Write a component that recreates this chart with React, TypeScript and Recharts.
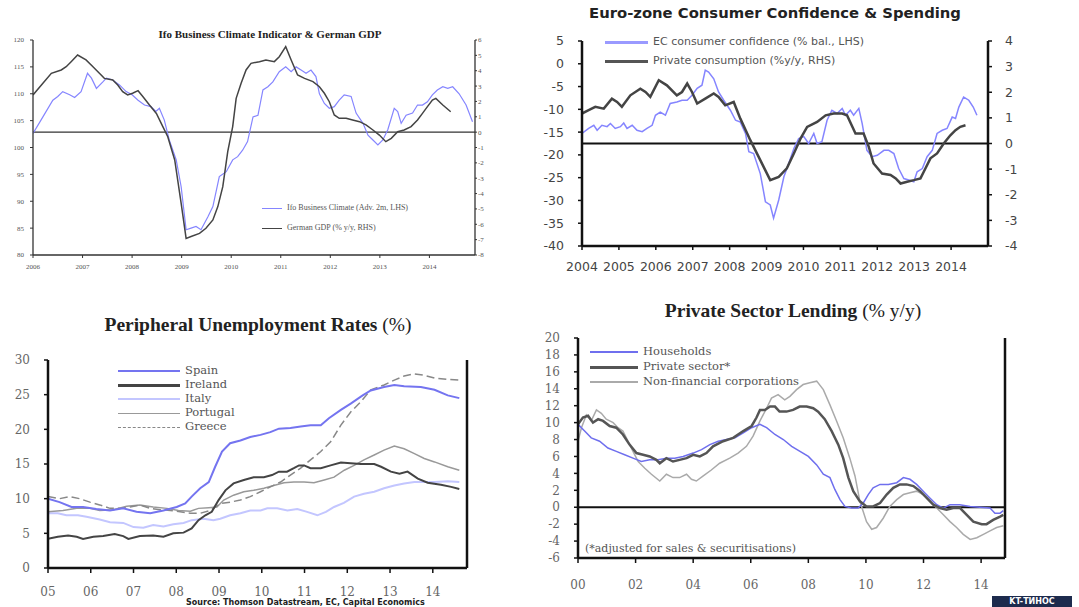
import { LineChart, Line, XAxis, YAxis, ReferenceLine } from 'recharts';

type Pt = [number, number];

// Ifo Business Climate (adv. 2m, LHS) and German GDP (% y/y, RHS)
const IFO: Pt[] = [
  [2006.0, 102.6], [2006.2, 105.7], [2006.4, 108.8], [2006.5, 109.5], [2006.6, 110.4], [2006.74, 109.8],
  [2006.84, 109.3], [2006.97, 110.4], [2007.1, 113.8], [2007.18, 112.9], [2007.28, 111.0], [2007.41, 112.2],
  [2007.48, 112.9], [2007.6, 112.6], [2007.75, 111.6], [2007.88, 110.4], [2008.0, 109.8], [2008.12, 108.8],
  [2008.25, 107.9], [2008.38, 107.6], [2008.48, 106.7], [2008.55, 107.3], [2008.65, 105.1], [2008.75, 101.4],
  [2008.89, 97.7], [2008.99, 92.7], [2009.09, 84.7], [2009.19, 85.0], [2009.29, 85.3], [2009.39, 84.7],
  [2009.53, 87.1], [2009.63, 89.0], [2009.76, 94.6], [2009.9, 95.5], [2010.03, 97.7], [2010.13, 98.3],
  [2010.23, 99.5], [2010.33, 101.1], [2010.44, 105.7], [2010.54, 106.0], [2010.64, 110.7], [2010.74, 111.3],
  [2010.84, 112.2], [2010.97, 114.1], [2011.1, 115.0], [2011.21, 114.1], [2011.31, 115.0], [2011.41, 114.4],
  [2011.51, 113.8], [2011.61, 114.4], [2011.71, 113.2], [2011.78, 110.0], [2011.88, 108.2], [2011.98, 107.3],
  [2012.08, 107.6], [2012.18, 108.8], [2012.28, 109.8], [2012.42, 109.5], [2012.52, 106.4], [2012.66, 104.5],
  [2012.76, 102.3], [2012.86, 101.4], [2012.96, 100.5], [2013.06, 101.4], [2013.16, 103.3], [2013.29, 107.3],
  [2013.36, 106.7], [2013.43, 104.5], [2013.53, 106.0], [2013.66, 106.4], [2013.76, 107.9], [2013.86, 107.9],
  [2013.96, 108.5], [2014.06, 109.8], [2014.16, 110.7], [2014.27, 111.3], [2014.37, 111.0], [2014.47, 111.3],
  [2014.6, 110.0], [2014.74, 107.9], [2014.87, 104.8],
];

const GERMAN_GDP: Pt[] = [
  [2006.0, 2.42], [2006.2, 3.18], [2006.37, 3.83], [2006.57, 4.05], [2006.67, 4.26], [2006.77, 4.59],
  [2006.9, 5.02], [2007.07, 4.7], [2007.21, 4.26], [2007.34, 3.83], [2007.44, 3.5], [2007.61, 3.4],
  [2007.71, 3.07], [2007.81, 2.64], [2007.91, 2.42], [2008.01, 2.53], [2008.12, 2.7], [2008.22, 2.31],
  [2008.35, 1.77], [2008.49, 1.22], [2008.62, 0.36], [2008.72, -0.3], [2008.86, -1.81], [2008.99, -4.64],
  [2009.09, -6.92], [2009.19, -6.8], [2009.36, -6.59], [2009.49, -6.26], [2009.63, -5.72], [2009.73, -4.85],
  [2009.83, -3.55], [2009.93, -1.27], [2010.03, 0.36], [2010.1, 2.2], [2010.2, 3.18], [2010.3, 4.05],
  [2010.4, 4.48], [2010.57, 4.59], [2010.7, 4.7], [2010.87, 4.59], [2010.97, 4.91], [2011.1, 5.57],
  [2011.21, 4.7], [2011.34, 3.72], [2011.48, 3.5], [2011.65, 3.29], [2011.78, 2.96], [2011.88, 2.53],
  [2011.98, 1.98], [2012.08, 1.12], [2012.18, 0.9], [2012.32, 0.9], [2012.45, 0.79], [2012.59, 0.68],
  [2012.72, 0.47], [2012.86, 0.14], [2012.99, -0.19], [2013.12, -0.62], [2013.23, -0.4], [2013.36, 0.03],
  [2013.49, 0.14], [2013.63, 0.36], [2013.76, 0.79], [2013.86, 1.22], [2013.96, 1.66], [2014.06, 2.09],
  [2014.13, 2.2], [2014.27, 1.77], [2014.43, 1.33],
];

// Euro-zone: EC consumer confidence (LHS) and private consumption % y/y (RHS)
const EC_CONFIDENCE: Pt[] = [
  [2004.0, -15.3], [2004.18, -14.2], [2004.32, -13.5], [2004.41, -14.6], [2004.54, -13.5], [2004.68, -13.8],
  [2004.77, -13.1], [2004.9, -14.2], [2005.04, -13.8], [2005.13, -13.0], [2005.22, -14.2], [2005.36, -13.5],
  [2005.49, -14.6], [2005.63, -14.9], [2005.76, -14.2], [2005.9, -13.5], [2005.99, -11.3], [2006.12, -10.6],
  [2006.26, -11.3], [2006.39, -8.7], [2006.57, -8.4], [2006.71, -8.0], [2006.85, -8.0], [2006.98, -6.9],
  [2007.12, -5.4], [2007.25, -4.7], [2007.34, -1.4], [2007.43, -1.8], [2007.57, -3.3], [2007.7, -6.2],
  [2007.84, -8.0], [2008.02, -10.2], [2008.16, -12.4], [2008.29, -12.8], [2008.43, -15.3], [2008.52, -19.3],
  [2008.65, -19.7], [2008.83, -24.1], [2008.97, -30.3], [2009.1, -31.0], [2009.19, -33.9], [2009.33, -29.9],
  [2009.47, -24.8], [2009.6, -21.9], [2009.74, -18.6], [2009.87, -16.4], [2010.01, -16.0], [2010.14, -17.5],
  [2010.28, -15.3], [2010.37, -17.5], [2010.5, -17.1], [2010.64, -12.4], [2010.77, -10.2], [2010.91, -10.9],
  [2011.05, -9.8], [2011.14, -11.3], [2011.27, -10.2], [2011.36, -11.3], [2011.5, -9.8], [2011.59, -13.1],
  [2011.72, -19.0], [2011.86, -20.4], [2012.0, -20.1], [2012.18, -19.0], [2012.31, -19.0], [2012.45, -19.7],
  [2012.58, -23.0], [2012.72, -25.2], [2012.85, -25.5], [2012.99, -25.9], [2013.08, -23.7], [2013.22, -23.0],
  [2013.35, -20.4], [2013.49, -19.0], [2013.62, -15.3], [2013.76, -14.6], [2013.89, -14.2], [2014.03, -11.7],
  [2014.12, -12.0], [2014.21, -9.5], [2014.34, -7.3], [2014.48, -8.0], [2014.6, -9.5], [2014.7, -11.3],
];

const PRIVATE_CONSUMPTION: Pt[] = [
  [2004.0, 1.17], [2004.18, 1.3], [2004.36, 1.43], [2004.59, 1.36], [2004.81, 1.75], [2004.95, 1.62],
  [2005.08, 1.43], [2005.31, 1.88], [2005.58, 2.14], [2005.72, 2.01], [2005.85, 1.82], [2006.08, 2.47],
  [2006.3, 2.27], [2006.57, 1.88], [2006.71, 2.01], [2006.85, 2.34], [2006.98, 2.01], [2007.12, 1.56],
  [2007.34, 1.75], [2007.57, 1.95], [2007.7, 1.82], [2007.88, 1.49], [2008.11, 1.62], [2008.29, 0.97],
  [2008.56, 0.13], [2008.83, -0.65], [2009.1, -1.43], [2009.33, -1.3], [2009.55, -0.97], [2009.74, -0.39],
  [2009.92, 0.19], [2010.1, 0.65], [2010.37, 0.84], [2010.6, 1.1], [2010.82, 1.17], [2011.05, 1.17],
  [2011.18, 1.1], [2011.41, 0.39], [2011.63, 0.39], [2011.77, -0.13], [2011.9, -0.78], [2012.13, -1.17],
  [2012.36, -1.23], [2012.5, -1.36], [2012.63, -1.56], [2012.81, -1.49], [2012.99, -1.43], [2013.17, -1.36],
  [2013.26, -1.1], [2013.44, -0.58], [2013.62, -0.39], [2013.8, 0.0], [2013.98, 0.32], [2014.12, 0.52],
  [2014.25, 0.65], [2014.39, 0.71],
];

// Peripheral unemployment rates (%)
const SPAIN: Pt[] = [
  [2005.0, 10.0], [2005.27, 9.5], [2005.55, 8.8], [2005.82, 8.8], [2006.13, 8.5], [2006.45, 8.3],
  [2006.76, 8.6], [2007.07, 8.1], [2007.39, 7.9], [2007.7, 8.3], [2008.01, 8.8], [2008.21, 9.3],
  [2008.36, 10.3], [2008.56, 11.5], [2008.76, 12.4], [2008.91, 14.6], [2009.07, 16.8], [2009.26, 18.0],
  [2009.5, 18.4], [2009.73, 18.9], [2009.97, 19.2], [2010.2, 19.6], [2010.4, 20.1], [2010.67, 20.2],
  [2010.91, 20.4], [2011.14, 20.6], [2011.38, 20.6], [2011.57, 21.6], [2011.85, 22.8], [2012.08, 23.7],
  [2012.36, 24.9], [2012.55, 25.6], [2012.86, 26.1], [2013.1, 26.4], [2013.33, 26.2], [2013.72, 26.1],
  [2014.04, 25.7], [2014.35, 24.9], [2014.62, 24.5],
];

const IRELAND: Pt[] = [
  [2005.0, 4.2], [2005.23, 4.5], [2005.47, 4.7], [2005.67, 4.5], [2005.82, 4.2], [2006.06, 4.5],
  [2006.29, 4.6], [2006.56, 4.9], [2006.76, 4.6], [2006.88, 4.2], [2007.15, 4.6], [2007.46, 4.7],
  [2007.7, 4.5], [2007.93, 5.0], [2008.17, 5.1], [2008.36, 5.7], [2008.52, 6.9], [2008.68, 7.6],
  [2008.83, 8.1], [2008.99, 9.8], [2009.15, 11.2], [2009.34, 12.2], [2009.58, 12.7], [2009.81, 13.1],
  [2010.05, 13.1], [2010.24, 13.4], [2010.4, 13.9], [2010.59, 13.9], [2010.75, 14.4], [2010.87, 14.8],
  [2010.99, 14.8], [2011.14, 14.4], [2011.38, 14.4], [2011.61, 14.8], [2011.85, 15.2], [2012.08, 15.1],
  [2012.32, 15.0], [2012.63, 15.0], [2012.79, 14.6], [2013.02, 13.9], [2013.22, 13.6], [2013.41, 13.9],
  [2013.65, 12.9], [2013.88, 12.3], [2014.19, 12.0], [2014.43, 11.7], [2014.62, 11.4],
];

const ITALY: Pt[] = [
  [2005.0, 7.9], [2005.23, 7.9], [2005.43, 7.6], [2005.7, 7.6], [2005.9, 7.4], [2006.21, 7.0],
  [2006.45, 6.6], [2006.76, 6.5], [2007.0, 5.9], [2007.23, 5.8], [2007.46, 6.2], [2007.7, 6.0],
  [2007.93, 6.3], [2008.17, 6.5], [2008.36, 6.9], [2008.64, 7.1], [2008.87, 6.9], [2009.03, 7.1],
  [2009.26, 7.6], [2009.5, 7.9], [2009.73, 8.3], [2009.97, 8.3], [2010.13, 8.6], [2010.36, 8.6],
  [2010.6, 8.3], [2010.83, 8.5], [2011.06, 8.1], [2011.3, 7.6], [2011.5, 8.1], [2011.69, 8.8],
  [2011.92, 9.4], [2012.16, 10.3], [2012.39, 10.7], [2012.63, 11.0], [2012.86, 11.5], [2013.1, 11.9],
  [2013.33, 12.2], [2013.57, 12.4], [2013.8, 12.4], [2014.04, 12.4], [2014.35, 12.5], [2014.62, 12.4],
];

const PORTUGAL: Pt[] = [
  [2005.0, 8.1], [2005.35, 8.3], [2005.67, 8.6], [2005.98, 8.6], [2006.21, 8.3], [2006.53, 8.4],
  [2006.84, 8.9], [2007.15, 9.1], [2007.46, 8.8], [2007.78, 8.6], [2008.05, 8.3], [2008.33, 8.2],
  [2008.52, 8.6], [2008.76, 8.7], [2008.95, 8.8], [2009.11, 9.8], [2009.34, 10.5], [2009.58, 11.0],
  [2009.81, 11.2], [2010.05, 11.5], [2010.28, 11.9], [2010.52, 12.3], [2010.75, 12.4], [2010.99, 12.4],
  [2011.22, 12.3], [2011.46, 12.7], [2011.69, 13.1], [2011.93, 14.1], [2012.16, 14.8], [2012.39, 15.6],
  [2012.63, 16.3], [2012.86, 17.0], [2013.1, 17.6], [2013.33, 17.2], [2013.57, 16.5], [2013.8, 15.8],
  [2014.04, 15.3], [2014.35, 14.6], [2014.62, 14.1],
];

const GREECE: Pt[] = [
  [2005.0, 10.3], [2005.27, 10.0], [2005.51, 10.3], [2005.74, 10.0], [2005.98, 9.5], [2006.21, 9.1],
  [2006.45, 8.6], [2006.68, 8.6], [2006.92, 8.8], [2007.15, 9.1], [2007.39, 8.6], [2007.62, 8.4],
  [2007.86, 8.3], [2008.09, 8.1], [2008.33, 7.9], [2008.56, 7.9], [2008.8, 8.3], [2009.03, 9.3],
  [2009.26, 9.5], [2009.5, 9.8], [2009.73, 10.3], [2009.97, 11.0], [2010.2, 11.7], [2010.44, 12.4],
  [2010.67, 13.4], [2010.91, 14.4], [2011.14, 15.6], [2011.38, 16.8], [2011.61, 18.2], [2011.85, 20.6],
  [2012.08, 22.5], [2012.32, 24.0], [2012.55, 25.7], [2012.86, 26.4], [2013.1, 27.1], [2013.33, 27.7],
  [2013.57, 28.0], [2013.8, 27.8], [2014.04, 27.4], [2014.35, 27.2], [2014.62, 27.1],
];

// Private sector lending (% y/y)
const HOUSEHOLDS: Pt[] = [
  [2000.0, 9.8], [2000.23, 9.0], [2000.46, 8.2], [2000.75, 7.8], [2001.04, 7.0], [2001.33, 6.6],
  [2001.62, 6.2], [2001.91, 5.8], [2002.2, 5.4], [2002.49, 5.6], [2002.78, 5.6], [2003.07, 5.8],
  [2003.36, 5.8], [2003.65, 6.0], [2004.0, 6.4], [2004.29, 6.8], [2004.58, 7.4], [2004.87, 7.8],
  [2005.16, 8.0], [2005.45, 8.2], [2005.74, 8.8], [2006.03, 9.4], [2006.32, 9.8], [2006.55, 9.4],
  [2006.84, 8.6], [2007.13, 8.0], [2007.42, 7.2], [2007.71, 6.6], [2008.0, 6.0], [2008.29, 5.0],
  [2008.52, 3.9], [2008.75, 3.5], [2008.92, 2.1], [2009.1, 0.9], [2009.27, 0.1], [2009.5, -0.1],
  [2009.73, -0.1], [2009.91, 0.5], [2010.08, 1.5], [2010.25, 2.3], [2010.49, 2.7], [2010.78, 2.7],
  [2011.07, 2.9], [2011.3, 3.5], [2011.53, 3.3], [2011.76, 2.7], [2011.99, 1.9], [2012.22, 1.1],
  [2012.46, 0.3], [2012.69, -0.1], [2012.92, 0.3], [2013.26, 0.3], [2013.62, 0.1], [2013.96, 0.0],
  [2014.31, -0.1], [2014.48, -0.7], [2014.66, -0.7], [2014.77, -0.4],
];

const PRIVATE_SECTOR: Pt[] = [
  [2000.0, 9.8], [2000.17, 10.6], [2000.35, 10.8], [2000.52, 10.0], [2000.7, 10.4], [2000.87, 10.2],
  [2001.1, 9.6], [2001.33, 9.4], [2001.56, 8.6], [2001.79, 7.4], [2002.03, 6.4], [2002.26, 6.2],
  [2002.49, 6.0], [2002.72, 5.6], [2002.84, 5.2], [2003.07, 5.8], [2003.3, 5.4], [2003.53, 5.6],
  [2003.77, 5.8], [2004.0, 6.2], [2004.23, 6.0], [2004.46, 6.4], [2004.69, 7.2], [2005.04, 7.8],
  [2005.39, 8.2], [2005.74, 9.0], [2006.03, 9.6], [2006.2, 10.6], [2006.32, 11.5], [2006.49, 11.5],
  [2006.67, 11.9], [2006.84, 11.9], [2007.0, 11.3], [2007.24, 11.3], [2007.47, 11.5], [2007.7, 11.9],
  [2007.94, 11.9], [2008.17, 11.7], [2008.34, 11.3], [2008.57, 10.4], [2008.81, 9.0], [2009.04, 7.4],
  [2009.21, 5.8], [2009.39, 3.5], [2009.56, 1.9], [2009.79, 0.7], [2010.02, 0.1], [2010.25, 0.1],
  [2010.49, 0.5], [2010.72, 1.5], [2010.95, 2.3], [2011.18, 2.7], [2011.41, 2.7], [2011.65, 2.5],
  [2011.88, 1.9], [2012.11, 1.1], [2012.34, 0.3], [2012.57, -0.1], [2012.8, -0.3], [2013.03, -0.1],
  [2013.27, -0.1], [2013.5, -0.9], [2013.73, -1.7], [2014.02, -2.0], [2014.19, -2.0], [2014.42, -1.5],
  [2014.66, -1.1], [2014.77, -0.9],
];

const NON_FIN_CORPS: Pt[] = [
  [2000.0, 7.8], [2000.12, 9.4], [2000.29, 10.9], [2000.46, 10.2], [2000.64, 11.5], [2000.81, 11.1],
  [2000.98, 10.4], [2001.22, 10.0], [2001.39, 9.4], [2001.56, 9.0], [2001.74, 7.8], [2001.91, 6.6],
  [2002.09, 5.4], [2002.32, 4.6], [2002.55, 3.9], [2002.84, 3.1], [2003.07, 3.9], [2003.3, 3.5],
  [2003.53, 3.5], [2003.77, 3.9], [2003.94, 3.3], [2004.11, 3.1], [2004.35, 3.7], [2004.63, 4.4],
  [2004.92, 5.2], [2005.27, 5.8], [2005.56, 6.4], [2005.85, 7.2], [2006.08, 8.4], [2006.32, 10.2],
  [2006.55, 11.7], [2006.72, 12.9], [2006.95, 13.3], [2007.18, 12.7], [2007.36, 13.1], [2007.59, 13.9],
  [2007.82, 14.5], [2008.05, 14.7], [2008.29, 14.9], [2008.52, 13.9], [2008.75, 12.1], [2008.98, 10.2],
  [2009.21, 8.2], [2009.44, 5.8], [2009.62, 3.7], [2009.79, 0.7], [2010.02, -1.7], [2010.2, -2.6],
  [2010.37, -2.4], [2010.6, -1.3], [2010.83, 0.1], [2011.07, 0.9], [2011.3, 1.5], [2011.53, 1.7],
  [2011.76, 1.9], [2011.99, 1.5], [2012.22, 0.7], [2012.46, -0.1], [2012.69, -0.9], [2012.92, -1.7],
  [2013.15, -2.4], [2013.38, -3.2], [2013.62, -3.8], [2013.85, -3.6], [2014.08, -3.2], [2014.31, -2.8],
  [2014.54, -2.4], [2014.77, -2.2],
];

// axis ticks
const IFO_YEARS = [2006, 2007, 2008, 2009, 2010, 2011, 2012, 2013, 2014];
const IFO_LEFT_TICKS = [80, 85, 90, 95, 100, 105, 110, 115, 120];
const IFO_RIGHT_TICKS = [-8, -7, -6, -5, -4, -3, -2, -1, 0, 1, 2, 3, 4, 5, 6];
const EZ_YEARS = [2004, 2005, 2006, 2007, 2008, 2009, 2010, 2011, 2012, 2013, 2014];
const EZ_LEFT_TICKS = [-40, -35, -30, -25, -20, -15, -10, -5, 0, 5];
const EZ_RIGHT_TICKS = [-4, -3, -2, -1, 0, 1, 2, 3, 4];
const UNEMP_YEARS = [2005, 2006, 2007, 2008, 2009, 2010, 2011, 2012, 2013, 2014];
const UNEMP_TICKS = [0, 5, 10, 15, 20, 25, 30];
const LENDING_YEARS = [2000, 2002, 2004, 2006, 2008, 2010, 2012, 2014];
const LENDING_TICKS = [-6, -4, -2, 0, 2, 4, 6, 8, 10, 12, 14, 16, 18, 20];

const SERIF = '"Liberation Serif", serif';
const DSERIF = '"DejaVu Serif", serif';
const SANS = '"DejaVu Sans", sans-serif';

const BLUE = '#8585ff';
const DARK = '#444';

function mergeSeries(series: Record<string, Pt[]>) {
  const rows = new Map<number, Record<string, number>>();
  Object.entries(series).forEach(([key, pts]) => {
    pts.forEach(([x, y]) => {
      const row = rows.get(x) ?? { x };
      row[key] = y;
      rows.set(x, row);
    });
  });
  return [...rows.values()].sort((a, b) => a.x - b.x);
}

const ifoData = mergeSeries({ ifo: IFO, gdp: GERMAN_GDP });
const ezData = mergeSeries({ conf: EC_CONFIDENCE, cons: PRIVATE_CONSUMPTION });
const unempData = mergeSeries({ spain: SPAIN, ireland: IRELAND, italy: ITALY, portugal: PORTUGAL, greece: GREECE });
const lendingData = mergeSeries({ hh: HOUSEHOLDS, ps: PRIVATE_SECTOR, nfc: NON_FIN_CORPS });

const yy = (v: number) => String(v % 100).padStart(2, '0');

function Swatch({ color, width, thick, dashed }: { color: string; width: number; thick: number; dashed?: boolean }) {
  return (
    <span
      style={{
        display: 'inline-block',
        width,
        height: 0,
        borderTop: `${thick}px ${dashed ? 'dashed' : 'solid'} ${color}`,
        verticalAlign: 'middle',
        marginRight: 5,
      }}
    />
  );
}

function IfoPanel() {
  const tick = { fontSize: 7, fill: '#555', fontFamily: SERIF };
  const axis = { stroke: '#333', strokeWidth: 1.3 };
  return (
    <div style={{ position: 'absolute', left: 0, top: 0 }}>
      <LineChart width={500} height={280} data={ifoData} margin={{ top: 40, right: 0, left: 0, bottom: 10 }}>
        <XAxis dataKey="x" type="number" domain={[2006, 2014.92]} ticks={IFO_YEARS} allowDataOverflow interval={0}
          tick={tick} tickSize={3} tickMargin={6} height={15} axisLine={axis} tickLine={{ stroke: '#333' }} />
        <YAxis yAxisId="left" domain={[80, 120]} ticks={IFO_LEFT_TICKS} interval={0} width={33}
          tick={tick} tickSize={3} tickMargin={6} axisLine={axis} tickLine={{ stroke: '#333' }} />
        <YAxis yAxisId="right" orientation="right" domain={[-8, 6]} ticks={IFO_RIGHT_TICKS} interval={0} width={25}
          tick={tick} tickSize={2} tickMargin={1} axisLine={axis} tickLine={{ stroke: '#333' }} />
        <ReferenceLine yAxisId="right" y={0} stroke="#333" strokeWidth={1.3} />
        <Line yAxisId="left" dataKey="ifo" stroke={BLUE} strokeWidth={1.2} dot={false} connectNulls isAnimationActive={false} />
        <Line yAxisId="right" dataKey="gdp" stroke={DARK} strokeWidth={1.5} dot={false} connectNulls isAnimationActive={false} />
      </LineChart>
      <div style={{ position: 'absolute', left: 0, width: 540, top: 28, textAlign: 'center', fontFamily: SERIF, fontWeight: 'bold', fontSize: 11, color: '#222' }}>
        Ifo Business Climate Indicator &amp; German GDP
      </div>
      <div style={{ position: 'absolute', left: 262, top: 203, fontFamily: SERIF, fontSize: 8, color: '#555' }}>
        <div style={{ height: 10, lineHeight: '10px', whiteSpace: 'nowrap' }}><Swatch color={BLUE} width={20} thick={1} />Ifo Business Climate (Adv. 2m, LHS)</div>
        <div style={{ height: 10, lineHeight: '10px', marginTop: 10, whiteSpace: 'nowrap' }}><Swatch color={DARK} width={20} thick={1.5} />German GDP (% y/y, RHS)</div>
      </div>
    </div>
  );
}

function EuroZonePanel() {
  const tick = { fontSize: 12.5, fill: '#444', fontFamily: SANS };
  const axis = { stroke: '#111', strokeWidth: 2.5 };
  return (
    <div style={{ position: 'absolute', left: 530, top: 0 }}>
      <LineChart width={549} height={290} data={ezData} margin={{ top: 41, right: 46, left: 0, bottom: 14 }}>
        <XAxis dataKey="x" type="number" domain={[2004, 2015]} ticks={EZ_YEARS} allowDataOverflow interval={0}
          tick={tick} tickSize={4} tickMargin={12} height={30} axisLine={axis} tickLine={{ stroke: '#111', strokeWidth: 1.5 }} />
        <YAxis yAxisId="left" domain={[-40, 5]} ticks={EZ_LEFT_TICKS} interval={0} width={52}
          tick={tick} tickSize={4} tickMargin={14} axisLine={axis} tickLine={{ stroke: '#111', strokeWidth: 1.5 }} />
        <YAxis yAxisId="right" orientation="right" domain={[-4, 4]} ticks={EZ_RIGHT_TICKS} interval={0} width={45}
          tick={tick} tickSize={4} tickMargin={13} axisLine={axis} tickLine={{ stroke: '#111', strokeWidth: 1.5 }} />
        <ReferenceLine yAxisId="right" y={0} stroke="#111" strokeWidth={2} />
        <Line yAxisId="left" dataKey="conf" stroke={BLUE} strokeWidth={1.5} dot={false} connectNulls isAnimationActive={false} />
        <Line yAxisId="right" dataKey="cons" stroke={DARK} strokeWidth={2.5} dot={false} connectNulls isAnimationActive={false} />
      </LineChart>
      <div style={{ position: 'absolute', left: 0, width: 490, top: 4, textAlign: 'center', fontFamily: SANS, fontWeight: 'bold', fontSize: 14.8, color: '#222' }}>
        Euro-zone Consumer Confidence &amp; Spending
      </div>
      <div style={{ position: 'absolute', left: 75, top: 34, fontFamily: SANS, fontSize: 11, color: '#555' }}>
        <div style={{ height: 19, lineHeight: '16px', whiteSpace: 'nowrap' }}><Swatch color="#9a9aff" width={43} thick={3} />EC consumer confidence (% bal., LHS)</div>
        <div style={{ height: 19, lineHeight: '16px', whiteSpace: 'nowrap' }}><Swatch color="#555" width={43} thick={3} />Private consumption (%y/y, RHS)</div>
      </div>
    </div>
  );
}

function UnemploymentPanel() {
  const tick = { fontSize: 12, fill: '#666', fontFamily: DSERIF };
  const axis = { stroke: '#111', strokeWidth: 2.5 };
  const legend = [
    { name: 'Spain', color: '#7474f0', thick: 2.5 },
    { name: 'Ireland', color: '#444', thick: 3 },
    { name: 'Italy', color: '#c3c6ff', thick: 2.5 },
    { name: 'Portugal', color: '#999', thick: 1.5 },
    { name: 'Greece', color: '#888', thick: 1.5, dashed: true },
  ];
  return (
    <div style={{ position: 'absolute', left: 0, top: 300 }}>
      <LineChart width={520} height={307} data={unempData} margin={{ top: 60, right: 13, left: 0, bottom: 9 }}>
        <XAxis dataKey="x" type="number" domain={[2005, 2014.8]} ticks={UNEMP_YEARS} allowDataOverflow interval={0} tickFormatter={yy}
          tick={tick} tickSize={5} tickMargin={14} height={30} axisLine={axis} tickLine={{ stroke: '#111', strokeWidth: 1.5 }} />
        <YAxis yAxisId="left" domain={[0, 30]} ticks={UNEMP_TICKS} interval={0} width={48}
          tick={tick} tickSize={4} tickMargin={14} axisLine={axis} tickLine={{ stroke: '#111', strokeWidth: 1.5 }} />
        <YAxis yAxisId="right" orientation="right" domain={[0, 30]} ticks={UNEMP_TICKS} interval={0} width={40}
          tick={tick} tickSize={4} tickMargin={14} axisLine={axis} tickLine={{ stroke: '#111', strokeWidth: 1.5 }} />
        <Line yAxisId="left" dataKey="italy" stroke="#c3c6ff" strokeWidth={2} dot={false} connectNulls isAnimationActive={false} />
        <Line yAxisId="left" dataKey="portugal" stroke="#999" strokeWidth={1.5} dot={false} connectNulls isAnimationActive={false} />
        <Line yAxisId="left" dataKey="greece" stroke="#888" strokeWidth={1.5} strokeDasharray="8 4" dot={false} connectNulls isAnimationActive={false} />
        <Line yAxisId="left" dataKey="ireland" stroke="#444" strokeWidth={2} dot={false} connectNulls isAnimationActive={false} />
        <Line yAxisId="left" dataKey="spain" stroke="#7474f0" strokeWidth={2} dot={false} connectNulls isAnimationActive={false} />
      </LineChart>
      <div style={{ position: 'absolute', left: 0, width: 516, top: 14, textAlign: 'center', fontFamily: SERIF, fontWeight: 'bold', fontSize: 19.5, color: '#222' }}>
        Peripheral Unemployment Rates <span style={{ fontWeight: 'normal' }}>(%)</span>
      </div>
      <div style={{ position: 'absolute', left: 118, top: 63, fontFamily: DSERIF, fontSize: 11.5, color: '#555' }}>
        {legend.map((l) => (
          <div key={l.name} style={{ height: 14, lineHeight: '14px', whiteSpace: 'nowrap' }}>
            <Swatch color={l.color} width={62} thick={l.thick} dashed={l.dashed} />{l.name}
          </div>
        ))}
      </div>
    </div>
  );
}

function LendingPanel() {
  const tick = { fontSize: 12, fill: '#666', fontFamily: DSERIF };
  const axis = { stroke: '#111', strokeWidth: 2.5 };
  const legend = [
    { name: 'Households', color: '#6f6fee', thick: 2 },
    { name: 'Private sector*', color: '#555', thick: 3.5 },
    { name: 'Non-financial corporations', color: '#aaa', thick: 2 },
  ];
  return (
    <div style={{ position: 'absolute', left: 530, top: 295 }}>
      <LineChart width={549} height={312} data={lendingData} margin={{ top: 43, right: 29, left: 0, bottom: 19 }}>
        <XAxis dataKey="x" type="number" domain={[2000, 2014.83]} ticks={LENDING_YEARS} allowDataOverflow interval={0} tickFormatter={yy}
          tick={tick} tickSize={5} tickMargin={17} height={30} axisLine={axis} tickLine={{ stroke: '#111', strokeWidth: 1.5 }} />
        <YAxis yAxisId="left" domain={[-6, 20]} ticks={LENDING_TICKS} interval={0} width={48}
          tick={tick} tickSize={4} tickMargin={14} axisLine={axis} tickLine={{ stroke: '#111', strokeWidth: 1.5 }} />
        <YAxis yAxisId="right" orientation="right" domain={[-6, 20]} ticks={LENDING_TICKS} interval={0} width={45}
          tick={tick} tickSize={4} tickMargin={14} axisLine={axis} tickLine={{ stroke: '#111', strokeWidth: 1.5 }} />
        <ReferenceLine yAxisId="left" y={0} stroke="#111" strokeWidth={2} />
        <Line yAxisId="left" dataKey="nfc" stroke="#aaa" strokeWidth={1.5} dot={false} connectNulls isAnimationActive={false} />
        <Line yAxisId="left" dataKey="hh" stroke="#6f6fee" strokeWidth={1.5} dot={false} connectNulls isAnimationActive={false} />
        <Line yAxisId="left" dataKey="ps" stroke="#555" strokeWidth={2.5} dot={false} connectNulls isAnimationActive={false} />
      </LineChart>
      <div style={{ position: 'absolute', left: 0, width: 526, top: 5, textAlign: 'center', fontFamily: SERIF, fontWeight: 'bold', fontSize: 19.5, color: '#222' }}>
        Private Sector Lending <span style={{ fontWeight: 'normal' }}>(% y/y)</span>
      </div>
      <div style={{ position: 'absolute', left: 60, top: 49, fontFamily: DSERIF, fontSize: 11.5, color: '#555' }}>
        {legend.map((l) => (
          <div key={l.name} style={{ height: 15, lineHeight: '15px', whiteSpace: 'nowrap' }}>
            <Swatch color={l.color} width={48} thick={l.thick} />{l.name}
          </div>
        ))}
      </div>
      <div style={{ position: 'absolute', left: 55, top: 247, fontFamily: DSERIF, fontSize: 11, color: '#555', whiteSpace: 'nowrap' }}>
        (*adjusted for  sales &amp; securitisations)
      </div>
    </div>
  );
}

export default function App() {
  return (
    <div style={{ position: 'absolute', left: 0, top: 0, width: 1079, height: 607, overflow: 'hidden', background: '#fff' }}>
      <IfoPanel />
      <EuroZonePanel />
      <UnemploymentPanel />
      <LendingPanel />
      <div style={{ position: 'absolute', left: 186, top: 598, fontFamily: SANS, fontWeight: 'bold', fontSize: 8, lineHeight: '9px', color: '#222', whiteSpace: 'nowrap' }}>
        Source: Thomson Datastream, EC, Capital Economics
      </div>
      <div style={{ position: 'absolute', left: 992, top: 596, width: 80, height: 11, background: '#1d2b4d', color: '#fff', fontFamily: SANS, fontWeight: 'bold', fontSize: 8, lineHeight: '11px', textAlign: 'center' }}>
        KT-ТИНОС
      </div>
    </div>
  );
}
